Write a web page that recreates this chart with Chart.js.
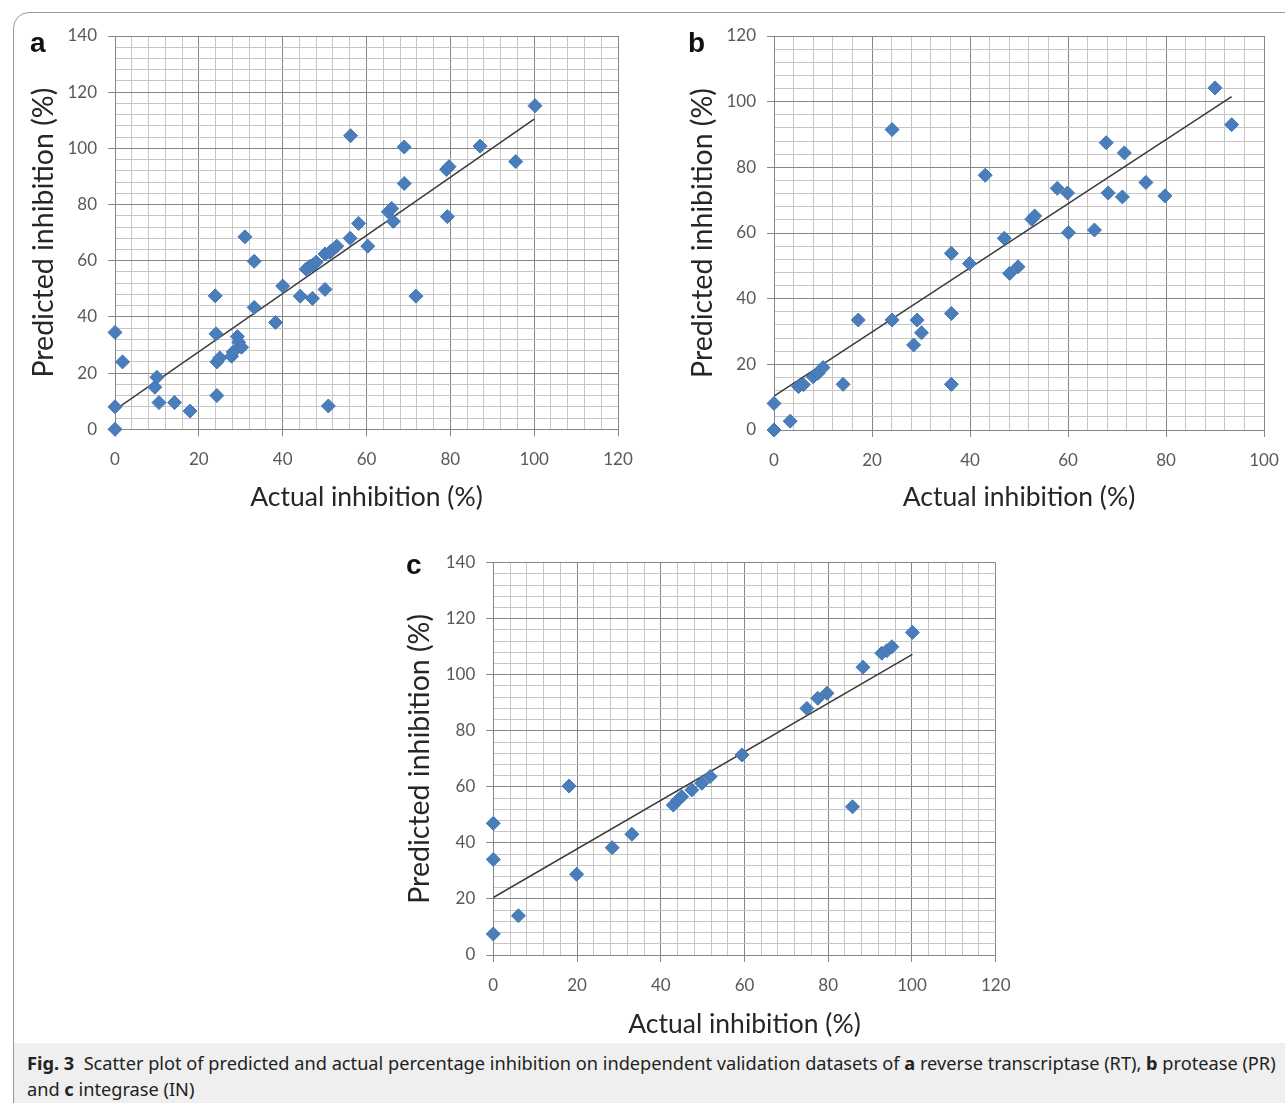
<!DOCTYPE html>
<html>
<head>
<meta charset="utf-8">
<script src="https://cdn.jsdelivr.net/npm/chart.js@4.4.1/dist/chart.umd.min.js"></script>
<style>
  body { margin: 0; background: #fff; width: 1285px; height: 1103px; overflow: hidden; position: relative; font-family: "Noto Sans", sans-serif; }
  .frame { position: absolute; left: 13px; top: 12px; width: 1300px; height: 1200px; border: 1px solid #9a9a9a; border-top-left-radius: 16px; box-sizing: border-box; }
  .box { position: absolute; }
  .letter { position: absolute; font-family: "Liberation Sans", Arial, sans-serif; font-weight: bold; font-size: 28px; line-height: 28px; color: #111; }
  .caption { position: absolute; left: 14px; top: 1043px; width: 1280px; height: 70px; background: #efefef; }
  .caption p { margin: 0; position: absolute; left: 13px; top: 7px; font-size: 18.2px; line-height: 26px; color: #222; white-space: nowrap; }
</style>
</head>
<body>
<div class="frame"></div>

<div class="box" style="left:20px;top:20px"><canvas id="chartA" width="620" height="510"></canvas></div>
<div class="box" style="left:680px;top:20px"><canvas id="chartB" width="605" height="510"></canvas></div>
<div class="box" style="left:380px;top:545px"><canvas id="chartC" width="640" height="500"></canvas></div>

<span class="letter" style="left:30px;top:29px">a</span>
<span class="letter" style="left:688px;top:29px">b</span>
<span class="letter" style="left:406px;top:551px">c</span>

<div class="caption"><p><b>Fig. 3</b>&nbsp; Scatter plot of predicted and actual percentage inhibition on independent validation datasets of <b>a</b> reverse transcriptase (RT), <b>b</b> protease (PR)<br>and <b>c</b> integrase (IN)</p></div>

<script>
// a: reverse transcriptase
const aActual = [0, 0, 0, 1.8, 9.5, 10, 10.5, 14.2, 17.9, 23.9, 24.1, 24.3, 25, 24.3, 27.8, 28.2, 29.2, 29.5, 30.2, 31, 33.2, 33.2,
  38.3, 40, 44.2, 45.6, 46.5, 47.1, 47.2, 48, 50.1, 50.1, 50.9, 51.2, 51.7, 52.9, 56.1, 56.2, 58.1, 60.3, 65.2, 66, 66.4, 69, 69,
  71.8, 79.1, 79.3, 79.7, 87.1, 95.6, 100.2];
const aPredicted = [0, 8, 34.5, 24, 15, 18.5, 9.5, 9.5, 6.5, 47.5, 34, 24, 25.4, 12, 26, 27.5, 33, 31, 29.2, 68.5, 59.8, 43.4,
  38, 51, 47.4, 57, 58, 46.6, 58.5, 59.5, 49.8, 62.4, 8.3, 63, 63.6, 65.2, 68, 104.5, 73.3, 65.2, 77.4, 78.6, 74, 100.5, 87.5,
  47.4, 92.5, 75.7, 93.5, 100.8, 95.3, 115.2];
const aTrendX = [0, 100];
const aTrendY = [6.9, 110.4];

// b: protease
const bActual = [0, 0, 3.3, 5, 6, 8, 9, 10, 14.1, 17.2, 24.1, 24.1, 28.5, 29.2, 30.1, 36.2, 36.2, 36.2, 39.9, 43.1, 47, 48.1,
  49.8, 52.6, 53.2, 57.8, 59.9, 60.1, 65.4, 67.8, 68.2, 71.1, 71.5, 75.9, 79.8, 90, 93.4];
const bPredicted = [8.1, 0, 2.7, 13.2, 13.8, 16.2, 17.3, 19, 13.9, 33.5, 33.5, 91.5, 25.9, 33.5, 29.6, 35.5, 13.9, 53.8, 50.7,
  77.6, 58.4, 47.7, 49.7, 64.2, 65.2, 73.6, 72.2, 60.1, 60.9, 87.5, 72.2, 71, 84.4, 75.4, 71.3, 104.2, 93];
const bTrendX = [0, 93.4];
const bTrendY = [10.3, 101.5];

// c: integrase
const cActual = [0, 0, 0, 6, 18.1, 19.9, 28.4, 33.1, 43, 44.1, 45, 47.4, 49.8, 51.8, 59.4, 74.9, 77.5, 79.7, 85.8, 88.3, 92.8,
  94, 95.2, 100.1];
const cPredicted = [7.5, 34.1, 47, 14, 60.3, 28.8, 38.3, 43.1, 53.5, 55.3, 56.5, 58.9, 61.3, 63.7, 71.4, 88, 91.6, 93.4, 52.9,
  102.7, 107.7, 108.6, 110, 115.1];
const cTrendX = [0, 100.1];
const cTrendY = [20.5, 107.3];

const xTitle = "Actual inhibition (%)";
const yTitle = "Predicted inhibition (%)";

const toPoints = (xs, ys) => xs.map((x, i) => ({ x: x, y: ys[i] }));

const majorColor = "#878787";
const minorColor = "#c6c6c6";
const tickFont = { family: "Lato", size: 17 };

const gridCfg = {
  color: (ctx) => (ctx.tick && ctx.tick.value % 20 === 0 ? majorColor : minorColor),
  tickColor: (ctx) => (ctx.tick && ctx.tick.value % 20 === 0 ? majorColor : "rgba(0,0,0,0)"),
  tickLength: 7,
  lineWidth: 1,
};

function makeScatter(id, pts, trend, s) {
  return new Chart(document.getElementById(id), {
    type: "scatter",
    data: {
      datasets: [
        {
          data: pts,
          clip: false,
          pointStyle: "rectRot",
          pointRadius: 7,
          backgroundColor: "#4a7ebb",
          borderColor: "#4176b4",
          borderWidth: 1,
        },
        {
          data: trend,
          showLine: true,
          pointRadius: 0,
          borderColor: "#3a3a3a",
          borderWidth: 1.5,
        },
      ],
    },
    options: {
      responsive: false,
      animation: false,
      layout: { padding: { top: s.top, right: s.width - s.right, left: 0, bottom: 0 } },
      plugins: { legend: { display: false }, tooltip: { enabled: false } },
      scales: {
        x: {
          type: "linear",
          min: 0,
          max: s.xMax,
          // fixed axis box, and no extra room for the end labels
          afterFit: (sc) => {
            sc.height = s.height - s.bottom;
            sc.paddingLeft = 0;
            sc.paddingRight = 0;
          },
          border: { color: majorColor },
          grid: gridCfg,
          ticks: {
            stepSize: 4,
            autoSkip: false,
            maxRotation: 0,
            padding: 13,
            color: "#595959",
            font: tickFont,
            callback: (v) => (v % 20 === 0 ? v : ""),
          },
          title: { display: true, text: xTitle, color: "#262626", font: { family: "Lato", size: 26.5 }, padding: { bottom: s.xTitlePad } },
        },
        y: {
          type: "linear",
          min: 0,
          max: s.yMax,
          afterFit: (sc) => {
            sc.width = s.left;
            sc.paddingTop = 0;
            sc.paddingBottom = 0;
          },
          border: { color: majorColor },
          grid: gridCfg,
          ticks: {
            stepSize: 4,
            autoSkip: false,
            padding: 11,
            color: "#595959",
            font: tickFont,
            callback: (v) => (v % 20 === 0 ? v : ""),
          },
          title: { display: true, text: yTitle, color: "#262626", font: { family: "Lato", size: 28.5 }, padding: { top: s.yTitlePad } },
        },
      },
    },
  });
}

makeScatter("chartA", toPoints(aActual, aPredicted), toPoints(aTrendX, aTrendY),
  { width: 620, height: 510, left: 95, right: 598, top: 16, bottom: 409.3, xMax: 120, yMax: 140, xTitlePad: 17, yTitlePad: 7 });
makeScatter("chartB", toPoints(bActual, bPredicted), toPoints(bTrendX, bTrendY),
  { width: 605, height: 510, left: 94, right: 584, top: 16, bottom: 410, xMax: 100, yMax: 120, xTitlePad: 17, yTitlePad: 6 });
makeScatter("chartC", toPoints(cActual, cPredicted), toPoints(cTrendX, cTrendY),
  { width: 640, height: 500, left: 113.3, right: 615.7, top: 17.7, bottom: 410, xMax: 120, yMax: 140, xTitlePad: 5, yTitlePad: 23 });
</script>
</body>
</html>
